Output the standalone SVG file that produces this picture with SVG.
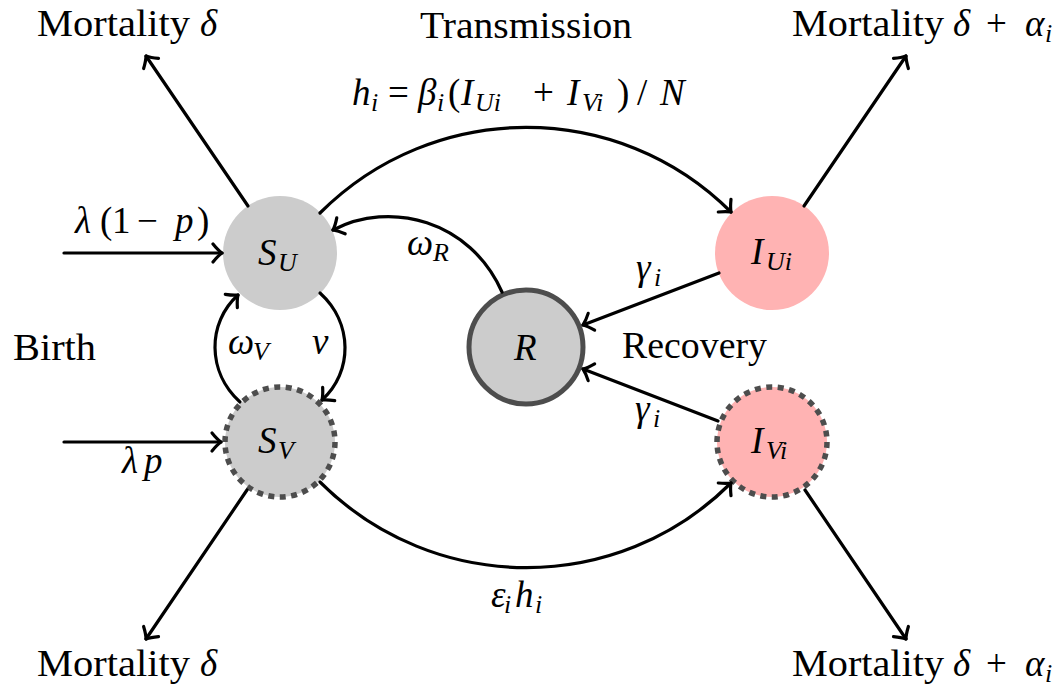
<svg xmlns="http://www.w3.org/2000/svg" width="1058" height="688" viewBox="0 0 1058 688">
<defs>
<marker id="to" markerUnits="userSpaceOnUse" viewBox="-12 -12 16 24" refX="0" refY="0" markerWidth="16" markerHeight="24" orient="auto" overflow="visible">
<path d="M -9 -9 Q -4 -2.8 0 0 Q -4 2.8 -9 9" fill="none" stroke="#000" stroke-width="3.2" stroke-linecap="round" stroke-linejoin="round"/>
</marker>
</defs>
<rect width="1058" height="688" fill="#fff"/>

<g id="SU">
<circle cx="280" cy="253" r="57" fill="#cccccc"/>
<text font-family="Liberation Serif" font-size="37" font-style="italic" x="258" y="265">S</text>
<text font-family="Liberation Serif" font-size="26" font-style="italic" x="278" y="271">U</text>
</g>
<g id="SV">
<circle cx="280" cy="442" r="55" fill="#cccccc" stroke="#4d4d4d" stroke-width="5.5" stroke-dasharray="6 5.5"/>
<text font-family="Liberation Serif" font-size="37" font-style="italic" x="258" y="453">S</text>
<text font-family="Liberation Serif" font-size="26" font-style="italic" x="278" y="459">V</text>
</g>
<g id="R">
<circle cx="526" cy="347" r="57" fill="#cccccc" stroke="#4d4d4d" stroke-width="5"/>
<text font-family="Liberation Serif" font-size="37" font-style="italic" x="514" y="360">R</text>
</g>
<g id="IU">
<circle cx="772" cy="253" r="57" fill="#ffb3b3"/>
<text font-family="Liberation Serif" font-size="37" font-style="italic" x="751" y="264">I</text>
<text font-family="Liberation Serif" font-size="26" font-style="italic" x="766" y="270">Ui</text>
</g>
<g id="IV">
<circle cx="772" cy="442" r="55" fill="#ffb3b3" stroke="#4d4d4d" stroke-width="5.5" stroke-dasharray="6 5.5"/>
<text font-family="Liberation Serif" font-size="37" font-style="italic" x="751" y="453">I</text>
<text font-family="Liberation Serif" font-size="26" font-style="italic" x="766" y="459">Vi</text>
</g>

<g id="connectors" fill="none" stroke="#000" stroke-width="3.2" stroke-linecap="round" marker-end="url(#to)">
<line x1="248" y1="206" x2="146" y2="56"/>
<line x1="804" y1="206" x2="906" y2="56"/>
<line x1="247" y1="490" x2="146" y2="639"/>
<line x1="805" y1="490" x2="906" y2="639"/>
<line x1="64" y1="253" x2="222" y2="253"/>
<line x1="64" y1="442" x2="221" y2="442"/>
<path d="M 320 213 C 434 99, 618 99, 731 212"/>
<path d="M 320 482 C 434 596, 618 596, 731 483"/>
<path d="M 502 292 C 470 220, 390 200, 333 230"/>
<line x1="719" y1="273" x2="583" y2="325"/>
<line x1="718" y1="421" x2="583" y2="369"/>
<path d="M 320 293 C 353 323, 353 372, 322 400"/>
<path d="M 240 402 C 207 372, 207 323, 238 295"/>
</g>

<g id="labels">
<text font-family="Liberation Serif" font-size="37" x="37" y="36" textLength="153" lengthAdjust="spacingAndGlyphs">Mortality</text>
<text font-family="Liberation Serif" font-size="37" font-style="italic" x="200" y="36">δ</text>
<text font-family="Liberation Serif" font-size="37" x="792" y="36" textLength="152" lengthAdjust="spacingAndGlyphs">Mortality</text>
<text font-family="Liberation Serif" font-size="37" font-style="italic" x="953" y="36">δ</text>
<text font-family="Liberation Serif" font-size="37" x="986" y="36">+</text>
<text font-family="Liberation Serif" font-size="37" font-style="italic" x="1025" y="36">α</text>
<text font-family="Liberation Serif" font-size="26" font-style="italic" x="1045" y="42">i</text>
<text font-family="Liberation Serif" font-size="37" x="37" y="676" textLength="153" lengthAdjust="spacingAndGlyphs">Mortality</text>
<text font-family="Liberation Serif" font-size="37" font-style="italic" x="200" y="676">δ</text>
<text font-family="Liberation Serif" font-size="37" x="792" y="676" textLength="152" lengthAdjust="spacingAndGlyphs">Mortality</text>
<text font-family="Liberation Serif" font-size="37" font-style="italic" x="953" y="676">δ</text>
<text font-family="Liberation Serif" font-size="37" x="986" y="676">+</text>
<text font-family="Liberation Serif" font-size="37" font-style="italic" x="1025" y="676">α</text>
<text font-family="Liberation Serif" font-size="26" font-style="italic" x="1045" y="682">i</text>
<text font-family="Liberation Serif" font-size="37" x="420" y="38" textLength="212" lengthAdjust="spacingAndGlyphs">Transmission</text>
<text font-family="Liberation Serif" font-size="37" font-style="italic" x="352" y="105">h</text>
<text font-family="Liberation Serif" font-size="26" font-style="italic" x="371" y="111">i</text>
<text font-family="Liberation Serif" font-size="37" x="388" y="105">=</text>
<text font-family="Liberation Serif" font-size="37" font-style="italic" x="418" y="105">β</text>
<text font-family="Liberation Serif" font-size="26" font-style="italic" x="437" y="111">i</text>
<text font-family="Liberation Serif" font-size="37" x="448" y="105">(</text>
<text font-family="Liberation Serif" font-size="37" font-style="italic" x="461" y="105">I</text>
<text font-family="Liberation Serif" font-size="26" font-style="italic" x="475" y="111">Ui</text>
<text font-family="Liberation Serif" font-size="37" x="533" y="105">+</text>
<text font-family="Liberation Serif" font-size="37" font-style="italic" x="567" y="105">I</text>
<text font-family="Liberation Serif" font-size="26" font-style="italic" x="582" y="111">Vi</text>
<text font-family="Liberation Serif" font-size="37" x="617" y="105">)</text>
<text font-family="Liberation Serif" font-size="37" x="637" y="105">/</text>
<text font-family="Liberation Serif" font-size="37" font-style="italic" x="660" y="105">N</text>
<text font-family="Liberation Serif" font-size="37" font-style="italic" x="75" y="233">λ</text>
<text font-family="Liberation Serif" font-size="37" x="100" y="233">(</text>
<text font-family="Liberation Serif" font-size="37" x="112" y="233">1</text>
<text font-family="Liberation Serif" font-size="37" x="137" y="233">−</text>
<text font-family="Liberation Serif" font-size="37" font-style="italic" x="175" y="233">p</text>
<text font-family="Liberation Serif" font-size="37" x="197" y="233">)</text>
<text font-family="Liberation Serif" font-size="37" x="13" y="360" textLength="83" lengthAdjust="spacingAndGlyphs">Birth</text>
<text font-family="Liberation Serif" font-size="37" font-style="italic" x="122" y="473">λ</text>
<text font-family="Liberation Serif" font-size="37" font-style="italic" x="144" y="473">p</text>
<text font-family="Liberation Serif" font-size="37" font-style="italic" x="407" y="255">ω</text>
<text font-family="Liberation Serif" font-size="26" font-style="italic" x="433" y="261">R</text>
<text font-family="Liberation Serif" font-size="37" font-style="italic" x="228" y="354">ω</text>
<text font-family="Liberation Serif" font-size="26" font-style="italic" x="253" y="360">V</text>
<text font-family="Liberation Serif" font-size="37" font-style="italic" x="312" y="354">ν</text>
<text font-family="Liberation Serif" font-size="37" font-style="italic" x="636" y="280">γ</text>
<text font-family="Liberation Serif" font-size="26" font-style="italic" x="654" y="286">i</text>
<text font-family="Liberation Serif" font-size="37" font-style="italic" x="635" y="421">γ</text>
<text font-family="Liberation Serif" font-size="26" font-style="italic" x="653" y="427">i</text>
<text font-family="Liberation Serif" font-size="37" x="622" y="358" textLength="145" lengthAdjust="spacingAndGlyphs">Recovery</text>
<text font-family="Liberation Serif" font-size="37" font-style="italic" x="491" y="607">ε</text>
<text font-family="Liberation Serif" font-size="26" font-style="italic" x="504" y="613">i</text>
<text font-family="Liberation Serif" font-size="37" font-style="italic" x="515" y="607">h</text>
<text font-family="Liberation Serif" font-size="26" font-style="italic" x="535" y="613">i</text>
</g>
</svg>
